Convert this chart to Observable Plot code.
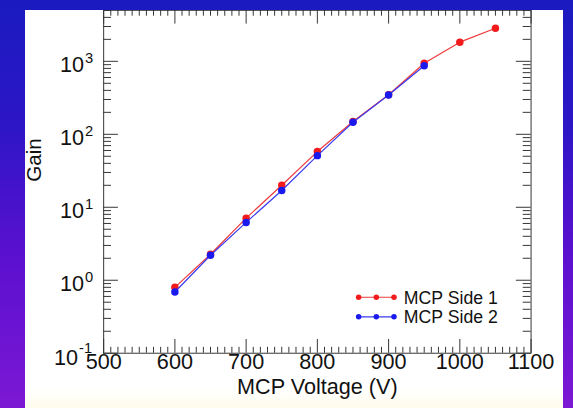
<!DOCTYPE html>
<html><head><meta charset="utf-8">
<script src="https://cdn.jsdelivr.net/npm/d3@7"></script>
<script src="https://cdn.jsdelivr.net/npm/@observablehq/plot@0.6"></script>
<style>
html,body{margin:0;padding:0;}
body{width:573px;height:408px;overflow:hidden;position:relative;
  background:linear-gradient(180deg,#1a1ac0 0%,#2c16c6 30%,#5a10cf 62%,#7c18d4 100%);
  font-family:"Liberation Sans",Arial,sans-serif;}
#panel{position:absolute;left:25px;top:10px;width:538px;height:398px;overflow:hidden;
  background:linear-gradient(180deg,#ffffff 0%,#ffffff 95%,#fffcec 100%);}
#chart{position:absolute;left:-25px;top:-10px;}
</style></head>
<body><div id="panel"><div id="chart"></div></div>
<script>
// Data
const voltage1 = [600, 650, 700, 750, 800, 850, 900, 950, 1000, 1050];
const gain1    = [0.80, 2.27, 7.1, 20, 58, 150, 348, 940, 1830, 2840];
const voltage2 = [600, 650, 700, 750, 800, 850, 900, 950];
const gain2    = [0.69, 2.2, 6.2, 17, 51, 146, 345, 870];
const seriesNames = ["MCP Side 1", "MCP Side 2"];

// Axis ticks
const xMajor = [500, 600, 700, 800, 900, 1000, 1100];
const xMinor = d3.range(510, 1100, 10).filter(v => v % 100 !== 0);
const yMajorExp = [-1, 0, 1, 2, 3];
const yMajor = yMajorExp.map(e => Math.pow(10, e));
const yMinor = [];
for (const e of [-1, 0, 1, 2, 3]) for (let k = 2; k <= 9; k++) { const v = k * Math.pow(10, e); if (v <= 5000) yMinor.push(v); }

const side1 = voltage1.map((v, i) => ({v, g: gain1[i]}));
const side2 = voltage2.map((v, i) => ({v, g: gain2[i]}));

const W = 573, H = 408, mL = 105, mR = 33, mT = 10, mB = 49;
const fw = W - mL - mR, fh = H - mT - mB;
const axisColor = "#333";
const red = "#f21a1a", blue = "#1a1aee";
const font = "'Liberation Sans', Arial, sans-serif";

const chart = Plot.plot({
  width: W, height: H,
  marginLeft: mL, marginRight: mR, marginTop: mT, marginBottom: mB,
  x: {domain: [500, 1100], axis: null},
  y: {type: "log", domain: [0.1, 5000], axis: null},
  style: {background: "transparent", fontFamily: font, color: "#111"},
  marks: [
    Plot.frame({stroke: axisColor, strokeWidth: 1}),
    // bottom ticks
    Plot.tickX(xMinor, {x: d => d, insetTop: fh - 6, stroke: axisColor}),
    Plot.tickX(xMajor, {x: d => d, insetTop: fh - 14, stroke: axisColor}),
    // top ticks
    Plot.tickX(xMinor, {x: d => d, insetBottom: fh - 6, stroke: axisColor}),
    Plot.tickX(xMajor, {x: d => d, insetBottom: fh - 14, stroke: axisColor}),
    // left ticks
    Plot.tickY(yMinor, {y: d => d, insetRight: fw - 8, stroke: axisColor}),
    Plot.tickY(yMajor, {y: d => d, insetRight: fw - 15, stroke: axisColor}),
    // right ticks
    Plot.tickY(yMinor, {y: d => d, insetLeft: fw - 8, stroke: axisColor}),
    Plot.tickY(yMajor, {y: d => d, insetLeft: fw - 15, stroke: axisColor}),
    // series
    Plot.line(side1, {x: "v", y: "g", stroke: "#ee3a3a", strokeWidth: 1.2}),
    Plot.dot(side1, {x: "v", y: "g", r: 3.8, fill: red}),
    Plot.line(side2, {x: "v", y: "g", stroke: "#3a3aee", strokeWidth: 1.2}),
    Plot.dot(side2, {x: "v", y: "g", r: 3.8, fill: blue}),
    // x tick labels
    Plot.text(xMajor, {x: d => d, text: d => String(d), frameAnchor: "bottom", dy: 16, fontSize: 22, fill: "#111"}),
    // y tick labels: "10" + exponent
    Plot.text(yMajor.filter(v => v >= 1), {y: d => d, text: () => "10", frameAnchor: "left", dx: -20, dy: 4, textAnchor: "end", fontSize: 22, fill: "#111"}),
    Plot.text(yMajor.filter(v => v >= 1), {y: d => d, text: d => String(Math.round(Math.log10(d))), frameAnchor: "left", dx: -19, dy: -3, textAnchor: "start", fontSize: 15, fill: "#111"}),
    Plot.text(yMajor.filter(v => v < 1), {y: d => d, text: () => "10", frameAnchor: "left", dx: -26, dy: 5, textAnchor: "end", fontSize: 22, fill: "#111"}),
    Plot.text(yMajor.filter(v => v < 1), {y: d => d, text: d => String(Math.round(Math.log10(d))), frameAnchor: "left", dx: -25, dy: -5, textAnchor: "start", fontSize: 15, fill: "#111"}),
    // axis titles
    Plot.text(["MCP Voltage (V)"], {text: d => d, frameAnchor: "bottom", dy: 41, fontSize: 22, fill: "#111"}),
    Plot.text(["Gain"], {text: d => d, frameAnchor: "left", dx: -70, rotate: -90, fontSize: 21, fill: "#111"})
  ]
});
document.getElementById("chart").appendChild(chart);

// Legend
const svg = d3.select(chart);
const legend = svg.append("g");
const items = [{name: seriesNames[0], line: "#ee3a3a", dot: red, y: 302.5}, {name: seriesNames[1], line: "#3a3aee", dot: blue, y: 322.5}];
for (const it of items) {
  const g = legend.append("g").attr("transform", `translate(0,${it.y})`);
  g.append("line").attr("x1", 365).attr("x2", 401).attr("y1", 0).attr("y2", 0).attr("stroke", it.line).attr("stroke-width", 1.2);
  for (const cx of [365, 383, 401]) g.append("circle").attr("cx", cx).attr("cy", 0).attr("r", 2.8).attr("fill", it.dot);
  g.append("text").attr("x", 411).attr("y", 0).attr("dy", "0.36em").attr("text-anchor", "start")
    .attr("font-size", 18).attr("fill", "#111").attr("font-family", font).text(it.name);
}
</script>
</body></html>
